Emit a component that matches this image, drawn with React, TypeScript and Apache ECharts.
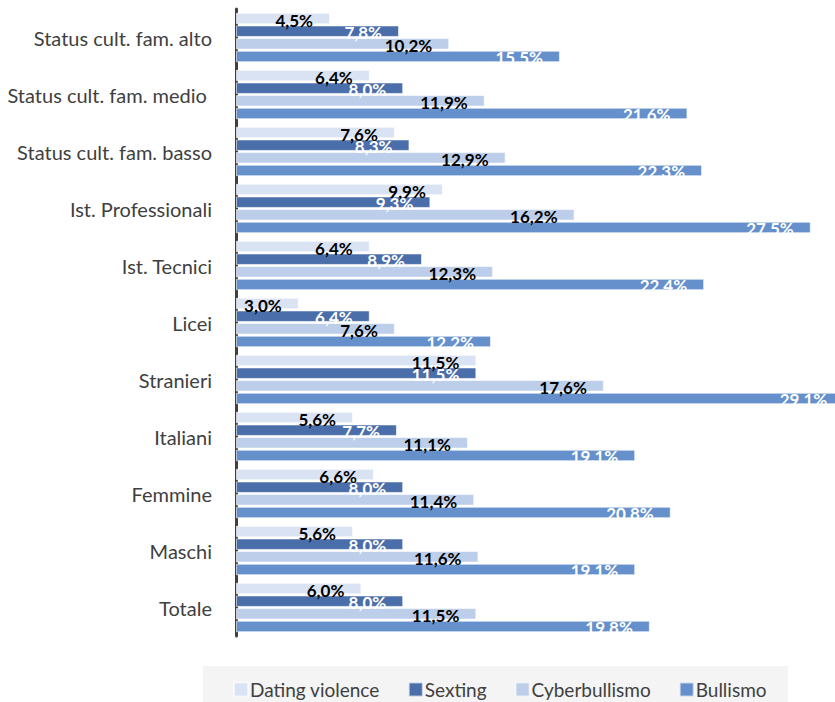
import React, { useEffect, useRef } from "react";
import * as echarts from "echarts";

const categories = [
  "Status cult. fam. alto",
  "Status cult. fam. medio ",
  "Status cult. fam. basso",
  "Ist. Professionali",
  "Ist. Tecnici",
  "Licei",
  "Stranieri",
  "Italiani",
  "Femmine",
  "Maschi",
  "Totale",
];

const datingViolence = [4.5, 6.4, 7.6, 9.9, 6.4, 3.0, 11.5, 5.6, 6.6, 5.6, 6.0];
const sexting = [7.8, 8.0, 8.3, 9.3, 8.9, 6.4, 11.5, 7.7, 8.0, 8.0, 8.0];
const cyberbullismo = [10.2, 11.9, 12.9, 16.2, 12.3, 7.6, 17.6, 11.1, 11.4, 11.6, 11.5];
const bullismo = [15.5, 21.6, 22.3, 27.5, 22.4, 12.2, 29.1, 19.1, 20.8, 19.1, 19.8];

const seriesNames = ["Dating violence", "Sexting", "Cyberbullismo", "Bullismo"];
const seriesColors = ["#dae3f3", "#4a6ea9", "#bccee9", "#6590cb"];
const labelColors = ["#000000", "#ffffff", "#000000", "#ffffff"];

const FONT = "Lato, 'Noto Sans', sans-serif";

export default function App() {
  const ref = useRef<HTMLDivElement>(null);

  useEffect(() => {
    if (!ref.current) return;
    const chart = echarts.init(ref.current, undefined, { renderer: "svg" });
    const allData = [datingViolence, sexting, cyberbullismo, bullismo];
    const series = allData.map((d, i) => ({
      name: seriesNames[i],
      type: "bar",
      data: d,
      barWidth: 11.5,
      barGap: "10%",
      clip: false,
      itemStyle: {
        color: seriesColors[i],
        borderColor: "rgba(255,255,255,0.6)",
        borderWidth: 1,
      },
      label: {
        show: true,
        position: "insideRight",
        offset: [-12, 1.5],
        color: labelColors[i],
        fontFamily: FONT,
        fontWeight: "bold",
        fontSize: 17,
        formatter: (p: any) => p.value.toFixed(1).replace(".", ",") + "%",
      },
    }));

    chart.setOption({
      animation: false,
      textStyle: { fontFamily: FONT },
      grid: {
        left: 236,
        top: 9,
        height: 627,
        width: 627,
        containLabel: false,
        outerBoundsMode: "none",
      },
      xAxis: {
        type: "value",
        min: 0,
        max: 30,
        show: false,
        splitLine: { show: false },
      },
      yAxis: {
        type: "category",
        data: categories,
        inverse: true,
        axisLine: { show: true, lineStyle: { color: "#404040", width: 3 } },
        axisTick: { show: false },
        axisLabel: {
          margin: 24,
          fontSize: 20,
          color: "#404040",
          fontFamily: FONT,
        },
      },
      legend: {
        data: seriesNames,
        left: 228,
        top: 675,
        itemWidth: 14,
        itemHeight: 14,
        itemGap: 28,
        icon: "rect",
        textStyle: { fontSize: 19, color: "#404040", fontFamily: FONT, padding: [0, 0, 0, -3] },
      },
      graphic: [
        {
          type: "rect",
          z: -10,
          shape: { x: 203, y: 666, width: 585, height: 36 },
          style: { fill: "#f4f4f4" },
        },
      ],
      series,
    });
    return () => chart.dispose();
  }, []);

  return (
    <div
      ref={ref}
      style={{ position: "absolute", left: 0, top: 0, width: 835, height: 702 }}
    />
  );
}
